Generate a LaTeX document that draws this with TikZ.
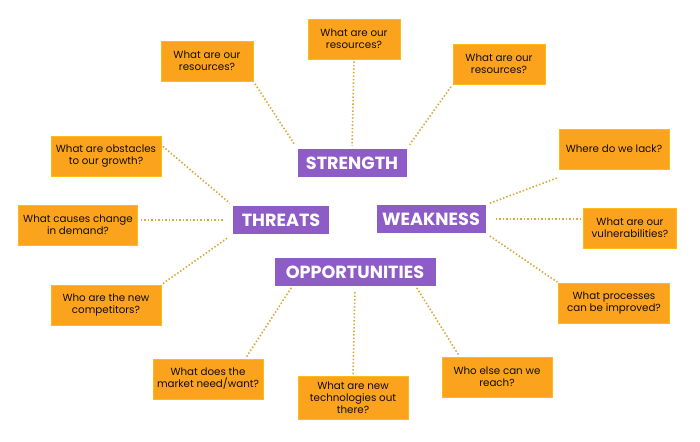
\documentclass[tikz,border=0pt]{standalone}
\usepackage{fontspec}
\setmainfont{Poppins}
\definecolor{boxorange}{HTML}{FBA31C}
\definecolor{labpurple}{HTML}{8E5CC6}
\definecolor{dotgold}{HTML}{D8A93C}
\begin{document}
\begin{tikzpicture}[x=1pt,y=-1pt,
  q/.style={fill=boxorange,draw=boxorange!75!yellow,line width=0.6pt,align=center,
    font=\fontsize{10.3}{12}\selectfont,text=black!90!brown,inner sep=0pt,minimum height=40pt},
  head/.style={fill=labpurple,text=white,font=\fontsize{17.6}{17.6}\selectfont\bfseries,
    inner sep=0pt,minimum height=28pt},
  link/.style={dotgold,line width=1.6pt,dash pattern=on 1.5pt off 2pt}]
\useasboundingbox (0,0) rectangle (700,441);
% the four headings
\node[head,minimum width=109pt] (str) at (352,163) {STRENGTH};
\node[head,minimum width=96pt] (thr) at (281,220) {THREATS};
\node[head,minimum width=109pt] (wea) at (431,219) {WEAKNESS};
\node[head,minimum width=161pt] (opp) at (355,272) {OPPORTUNITIES};
% questions
\node[q,minimum width=92pt] (res1) at (207,61) {What are our\\resources?};
\node[q,minimum width=92pt] (res2) at (354,39) {What are our\\resources?};
\node[q,minimum width=92pt] (res3) at (499,64) {What are our\\resources?};
\node[q,minimum width=110pt] (lack) at (614,149) {Where do we lack?};
\node[q,minimum width=93pt] (vul) at (630,228) {What are our\\vulnerabilities?};
\node[q,minimum width=111pt] (proc) at (614,303) {What processes\\can be improved?};
\node[q,minimum width=110pt] (reach) at (497,377) {Who else can we\\reach?};
\node[q,minimum width=110pt,minimum height=43pt] (tech) at (353,398) {What are new\\technologies out\\there?};
\node[q,minimum width=110pt] (mkt) at (208,379) {What does the\\market need/want?};
\node[q,minimum width=110pt] (comp) at (106,305) {Who are the new\\competitors?};
\node[q,minimum width=119pt] (dem) at (78,225) {What causes change\\in demand?};
\node[q,minimum width=110pt] (obs) at (106,156) {What are obstacles\\to our growth?};
% dotted links
\draw[link,shorten <=3pt,shorten >=5pt] (res1.south east) -- (str.north west);
\draw[link,shorten <=2pt,shorten >=3pt] (res2.south) -- (str.north);
\draw[link,shorten <=3pt,shorten >=5pt] (res3.south west) -- (str.north east);
\draw[link,shorten <=2pt,shorten >=4pt] ([yshift=-8pt]lack.south west) -- (wea.north east);
\draw[link,shorten <=10pt,shorten >=2pt] (wea.east) -- (wea.east -| vul.west);
\draw[link,shorten <=5pt,shorten >=1pt] (wea.south east) -- (proc.north west);
\draw[link,shorten <=2pt,shorten >=2pt] ([xshift=-20pt]opp.south east) -- ([xshift=18pt]reach.north west);
\draw[link,shorten <=6pt,shorten >=2pt] (opp.south) -- (tech.north);
\draw[link,shorten <=2pt,shorten >=2pt] ([xshift=18pt]opp.south west) -- ([xshift=-18pt]mkt.north east);
\draw[link,shorten <=2pt,shorten >=6pt] (comp.north east) -- (thr.south west);
\draw[link,shorten <=3pt,shorten >=10pt] ([yshift=5pt]dem.east) -- ([yshift=5pt]dem.east -| thr.west);
\draw[link,shorten <=2pt,shorten >=4pt] ([yshift=11pt]obs.east) -- (thr.north west);
\end{tikzpicture}
\end{document}
